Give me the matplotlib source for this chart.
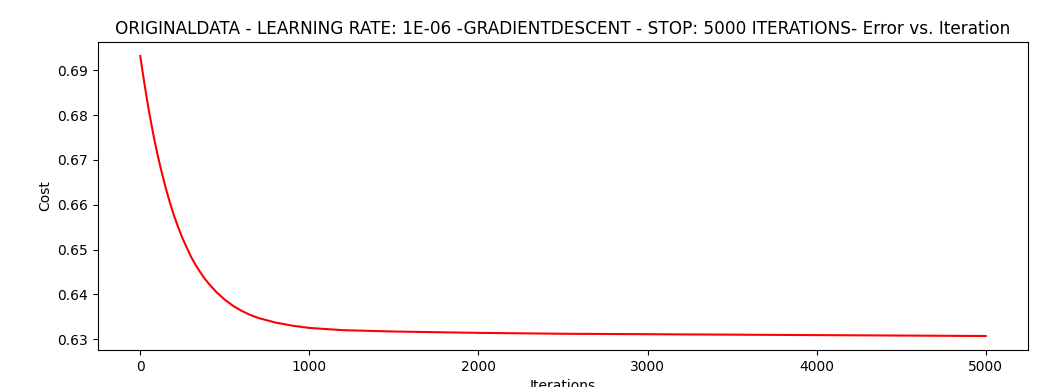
import matplotlib
matplotlib.use("Agg")
import matplotlib.pyplot as plt

# cost values
iterations = [0, 12, 25, 37, 50, 62, 75, 87, 100, 125, 150, 175, 200, 225,
              250, 275, 300, 325, 350, 375, 400, 450, 500, 550, 600, 650,
              700, 750, 800, 900, 1000, 1200, 1500, 2000, 2500, 3000, 3500,
              4000, 4500, 5000]
cost = [0.6932, 0.6901, 0.6869, 0.6841, 0.6812, 0.6787, 0.6761, 0.6739,
        0.6715, 0.6675, 0.6638, 0.6605, 0.6575, 0.6549, 0.6525, 0.6504,
        0.6484, 0.6467, 0.6452, 0.6438, 0.6426, 0.6405, 0.6388, 0.6374,
        0.6363, 0.6354, 0.6347, 0.6342, 0.6337, 0.6330, 0.6325, 0.6320,
        0.6317, 0.6314, 0.6312, 0.6311, 0.6310, 0.6309, 0.6308, 0.6307]

title = ("ORIGINALDATA - LEARNING RATE: 1E-06 -GRADIENTDESCENT - "
         "STOP: 5000 ITERATIONS- Error vs. Iteration")

fig = plt.figure(figsize=(10.55, 3.87), dpi=100)
ax = fig.add_axes([0.0929, 0.0956, 0.8815, 0.7959])

ax.plot(iterations, cost, color="red", linewidth=1.5)
ax.set_title(title, fontsize=12.15)
ax.set_xlabel("Iterations")
ax.set_ylabel("Cost")

fig.savefig("out.png", dpi=100)
